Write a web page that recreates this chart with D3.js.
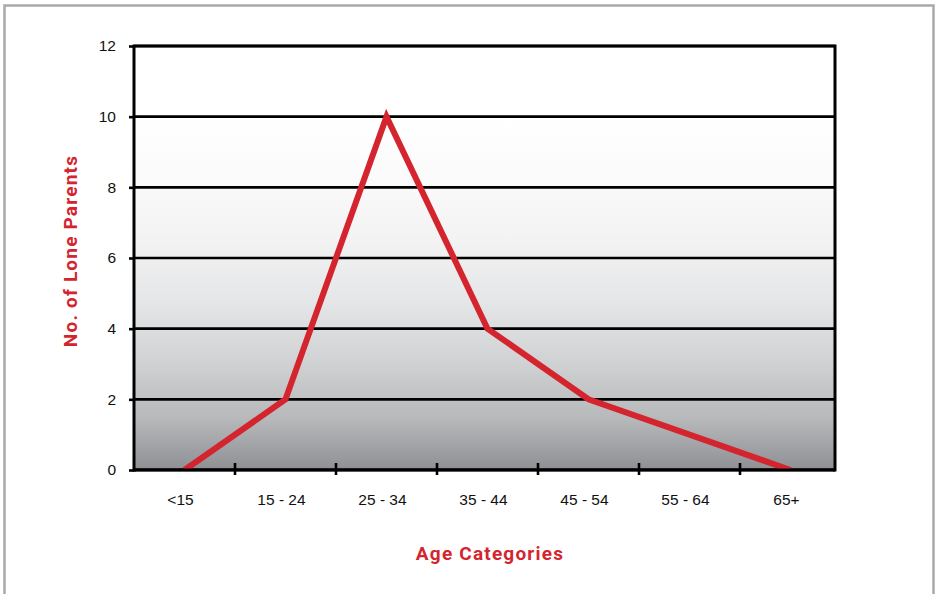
<!DOCTYPE html>
<html>
<head>
<meta charset="utf-8">
<script src="https://cdn.jsdelivr.net/npm/d3@7"></script>
<style>
  html, body { margin: 0; padding: 0; background: #fff; }
  svg { display: block; }
</style>
</head>
<body>
<div id="chart"></div>
<script>
// Lone parents by age band
const categories = ["<15", "15 - 24", "25 - 34", "35 - 44", "45 - 54", "55 - 64", "65+"];
const parents = [0, 2, 10, 4, 2, 1, 0];
const yTicks = [0, 2, 4, 6, 8, 10, 12];

const W = 939, H = 594;
const m = { left: 134, right: 835, top: 46, bottom: 470 };
const red = "#d4252f";
const bandW = 101;

const svg = d3.select("#chart").append("svg")
  .attr("width", W).attr("height", H);

// outer frame
svg.append("rect")
  .attr("x", 4.5).attr("y", 5.5)
  .attr("width", 929).attr("height", 600)
  .attr("fill", "none").attr("stroke", "#a7a9ac").attr("stroke-width", 2.5);

// bands run on past the right edge of the frame, so the last one is clipped
const x = d3.scaleBand().domain(categories).range([m.left, m.left + bandW * categories.length]);
const y = d3.scaleLinear().domain([0, 12]).range([m.bottom, m.top]);
const cx = d => x(d) + x.bandwidth() / 2;

// plot background gradient
const defs = svg.append("defs");
const grad = defs.append("linearGradient")
  .attr("id", "bg").attr("x1", 0).attr("y1", 0).attr("x2", 0).attr("y2", 1);
[
  [0, "#ffffff"], [0.165, "#ffffff"], [0.3, "#fbfbfb"], [0.45, "#f3f3f4"],
  [0.6, "#e5e6e7"], [0.75, "#d0d1d3"], [0.88, "#b6b8ba"], [1, "#8e9094"]
].forEach(([o, c]) => grad.append("stop").attr("offset", o).attr("stop-color", c));

svg.append("rect")
  .attr("x", m.left).attr("y", m.top)
  .attr("width", m.right - m.left).attr("height", m.bottom - m.top)
  .attr("fill", "url(#bg)");

// horizontal gridlines
svg.append("g").selectAll("line").data(yTicks).join("line")
  .attr("x1", m.left).attr("x2", m.right)
  .attr("y1", d => y(d)).attr("y2", d => y(d))
  .attr("stroke", "#000").attr("stroke-width", 2.6);

// y axis
const yAxis = svg.append("g")
  .attr("transform", `translate(${m.left},0)`)
  .call(d3.axisLeft(y).tickValues(yTicks).tickSize(5).tickPadding(13).tickFormat(d3.format("d")));
yAxis.select(".domain").remove();
yAxis.selectAll(".tick line").attr("stroke", "#000").attr("stroke-width", 2.6);
yAxis.selectAll(".tick text")
  .attr("font-family", "Liberation Sans, Arial, sans-serif")
  .attr("font-size", 15.5).attr("fill", "#111");

// category labels
svg.append("g").selectAll("text").data(categories).join("text")
  .attr("x", d => cx(d) - 4)
  .attr("y", 505)
  .attr("text-anchor", "middle")
  .attr("font-family", "Liberation Sans, Arial, sans-serif")
  .attr("font-size", 15.5).attr("fill", "#111")
  .text(d => d);

// plot frame
svg.append("rect")
  .attr("x", m.left).attr("y", m.top)
  .attr("width", m.right - m.left).attr("height", m.bottom - m.top)
  .attr("fill", "none").attr("stroke", "#000").attr("stroke-width", 3);

// data line
const line = d3.line()
  .x((d, i) => cx(categories[i]))
  .y(d => y(d));

svg.append("path")
  .datum(parents)
  .attr("d", line)
  .attr("fill", "none")
  .attr("stroke", red)
  .attr("stroke-width", 6)
  .attr("stroke-linejoin", "miter");

// trim the line's ends at the axis, then redraw the axis over it
svg.append("rect")
  .attr("x", m.left + 2).attr("y", m.bottom + 1.5)
  .attr("width", m.right - m.left - 4).attr("height", 5)
  .attr("fill", "#fff");
svg.append("line")
  .attr("x1", m.left).attr("x2", m.right)
  .attr("y1", m.bottom).attr("y2", m.bottom)
  .attr("stroke", "#000").attr("stroke-width", 3);

// x ticks on the band boundaries
const bounds = categories.slice(1).map(c => x(c));
svg.append("g").selectAll("line").data(bounds).join("line")
  .attr("x1", d => d).attr("x2", d => d)
  .attr("y1", m.bottom - 7).attr("y2", m.bottom + 5)
  .attr("stroke", "#000").attr("stroke-width", 2.6);

// axis titles
svg.append("text")
  .attr("x", 490).attr("y", 560)
  .attr("text-anchor", "middle")
  .attr("font-family", "Roboto, 'Noto Sans', sans-serif")
  .attr("font-weight", "bold").attr("font-size", 19)
  .attr("letter-spacing", 1.2)
  .attr("fill", red)
  .text("Age Categories");

svg.append("text")
  .attr("transform", "translate(77,251) rotate(-90)")
  .attr("text-anchor", "middle")
  .attr("font-family", "Roboto, 'Noto Sans', sans-serif")
  .attr("font-weight", "bold").attr("font-size", 19)
  .attr("letter-spacing", 1.2)
  .attr("fill", red)
  .text("No. of Lone Parents");
</script>
</body>
</html>
